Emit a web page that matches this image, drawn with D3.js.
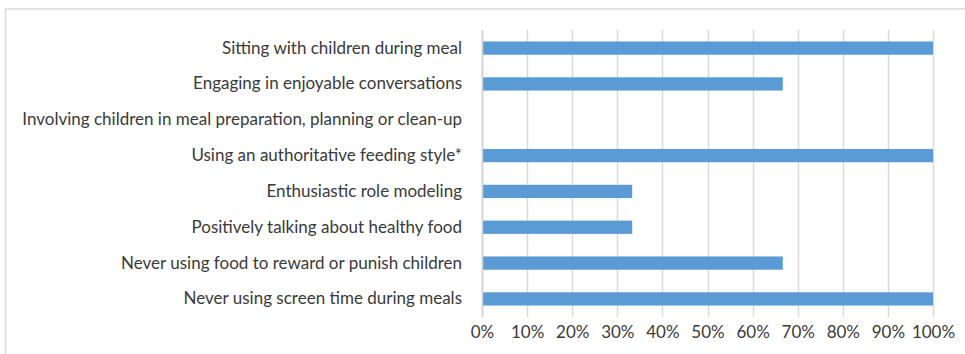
<!DOCTYPE html>
<html>
<head>
<meta charset="utf-8">
<script src="https://cdn.jsdelivr.net/npm/d3@7"></script>
<style>
  body { margin: 0; background: #fff; }
  svg { display: block; }
</style>
</head>
<body>
<svg id="chart"></svg>
<script>
// categories, top to bottom
const categories = [
  "Sitting with children during meal",
  "Engaging in enjoyable conversations",
  "Involving children in meal preparation, planning or clean-up",
  "Using an authoritative feeding style*",
  "Enthusiastic role modeling ",
  "Positively talking about healthy food",
  "Never using food to reward or punish children",
  "Never using screen time during meals"
];
const shares = [1.0, 0.667, 0, 1.0, 0.333, 0.333, 0.667, 1.0];
const xTicks = [0, 0.1, 0.2, 0.3, 0.4, 0.5, 0.6, 0.7, 0.8, 0.9, 1.0];

const width = 965, height = 354;
const margin = {top: 30, right: 32, bottom: 37, left: 482};

const svg = d3.select("#chart")
  .attr("width", width)
  .attr("height", height);

// outer frame of the chart area (cut off right and bottom)
svg.append("rect")
  .attr("x", 5.5).attr("y", 9)
  .attr("width", 980).attr("height", 380)
  .attr("fill", "none")
  .attr("stroke", "#d9d9d9")
  .attr("stroke-width", 1.5);

const chart = svg.append("g")
  .attr("transform", `translate(${margin.left},${margin.top})`);

const innerW = width - margin.left - margin.right;
const innerH = height - margin.top - margin.bottom;

const x = d3.scaleLinear().domain([0, 1]).range([0, innerW]);
const y = d3.scaleBand().domain(categories).range([0, innerH]).paddingInner(0.63).paddingOuter(0.32);

// gridlines
chart.append("g")
  .selectAll("line")
  .data(xTicks)
  .join("line")
  .attr("x1", d => Math.round(x(d)) + 0.5)
  .attr("x2", d => Math.round(x(d)) + 0.5)
  .attr("y1", 0)
  .attr("y2", innerH)
  .attr("stroke", "#d9d9d9")
  .attr("stroke-width", 1.5);

// bars
chart.append("g")
  .selectAll("rect")
  .data(shares)
  .join("rect")
  .attr("x", x(0))
  .attr("y", (d, i) => y(categories[i]))
  .attr("width", d => x(d))
  .attr("height", y.bandwidth())
  .attr("fill", "#5b9bd5");

const font = "Lato, 'Liberation Sans', sans-serif";

// left axis with category labels
const yAxis = d3.axisLeft(y).tickSize(0).tickPadding(20);
const yg = chart.append("g").call(yAxis);
yg.select(".domain").attr("stroke", "#d0d0d0").attr("stroke-width", 1.5);
yg.selectAll("text")
  .attr("fill", "#3a3a3a")
  .attr("font-family", font)
  .attr("font-size", 17);

// bottom axis
const xAxis = d3.axisBottom(x).tickValues(xTicks).tickSize(0).tickPadding(9).tickFormat(d3.format(".0%"));
const xg = chart.append("g")
  .attr("transform", `translate(0,${innerH})`)
  .call(xAxis);
xg.select(".domain").remove();
xg.selectAll("text")
  .attr("fill", "#3a3a3a")
  .attr("font-family", font)
  .attr("font-size", 17);
</script>
</body>
</html>
